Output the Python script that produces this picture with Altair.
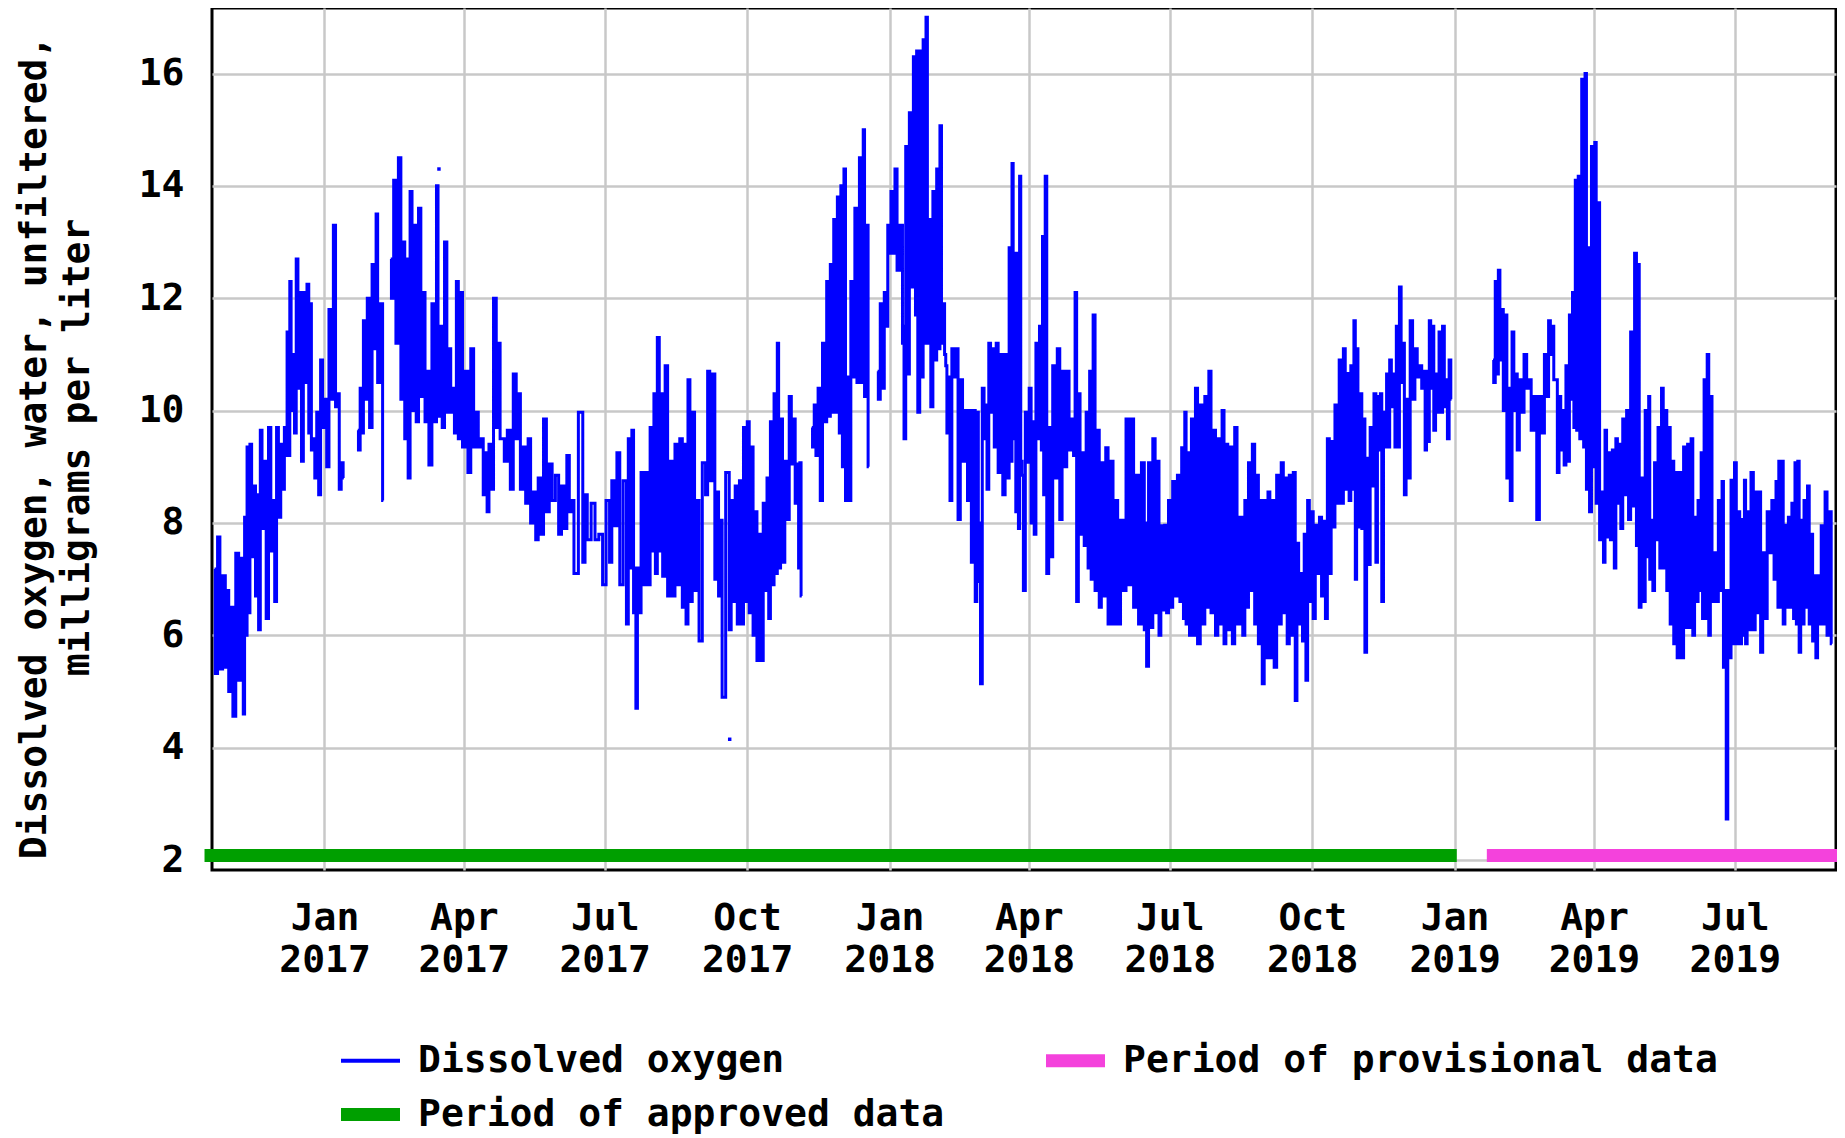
import altair as alt
import pandas as pd

# ---------------- data ----------------
# day = days since 2016-10-20 08:00 ; hi / lo = upper and lower value of the
# daily dissolved-oxygen swing (mg/L) around that day
day = [
    2.1, 5.1, 8.6, 10.8, 13.5, 17.2, 20.2, 21.9, 23.4, 25.6, 28.1, 30.1, 32.3, 35.0, 38.0, 40.5, 42.9, 45.9, 47.6, 49.4,
    51.1, 53.3, 55.5, 57.8, 60.2, 62.5, 64.2, 66.4, 68.9, 71.4, 74.1, 77.0, 79.8, 82.2, 84.7,
    94.6, 96.8, 98.8, 101.8, 105.0, 107.0, 110.2, 115.9, 118.8, 122.0, 124.5, 126.7, 129.2, 131.9, 134.9, 137.6, 140.1,
    144.0, 146.0, 148.7, 151.7, 154.2, 156.6, 159.1, 161.8, 165.3, 169.0, 172.0, 175.2, 177.7, 180.1, 183.6, 186.1,
    188.8, 192.7, 196.5, 199.2, 202.6, 205.8, 209.1, 212.3, 216.0, 219.7, 223.9, 227.6, 230.8, 233.8, 239.5, 242.4,
    247.4, 252.3, 256.8, 259.7, 263.4, 267.7, 270.1, 272.3, 273.8, 275.8, 278.5, 281.5, 284.5, 286.4, 288.9, 291.1,
    294.3, 297.6, 300.5, 303.8, 306.2, 308.7, 311.7, 314.6, 318.8, 321.5, 324.8, 327.2, 329.5, 334.1, 336.6, 339.3,
    342.1, 344.5, 347.0, 349.5, 352.0, 354.7, 357.4, 359.6, 361.8, 364.3, 366.0, 368.5, 371.5, 374.2, 376.7, 378.9, 380.5,
    387.9, 390.1, 392.9, 395.8, 398.3, 400.5, 402.7, 405.2, 407.2, 409.2, 411.4, 413.9, 416.6, 419.8, 421.5, 423.8,
    430.4, 432.9, 435.6, 437.4, 439.8, 442.5, 446.0, 447.0, 449.2, 451.7, 454.4, 455.9, 458.4, 460.3, 462.1, 464.3,
    467.0, 469.2, 471.2, 473.2, 474.7, 476.7, 479.1, 481.9, 484.8, 488.0, 490.5, 493.0, 495.0, 496.4, 498.7, 500.6,
    502.9, 505.3, 507.8, 510.8, 513.8, 516.0, 517.5, 519.2, 520.9, 522.4, 524.1, 526.6, 529.1, 531.1, 533.3, 535.7,
    537.2, 539.2, 541.7, 544.4, 547.6, 550.6, 553.6, 556.5, 558.5, 560.7, 563.4, 565.9, 567.9, 570.4, 573.1, 575.8,
    578.8, 582.0, 585.0, 588.7, 592.1, 595.3, 598.5, 602.2, 603.7, 606.2, 609.2, 611.7, 614.1, 616.6, 619.1, 622.0,
    625.2, 627.5, 629.2, 631.4, 633.9, 636.6, 640.1, 642.5, 645.3, 648.2, 651.2, 653.7, 656.1, 659.1, 662.1, 665.8,
    668.5, 670.5, 673.5, 675.9, 678.4, 680.9, 683.3, 686.1, 689.3, 692.0, 694.5, 697.2, 699.7, 701.9, 704.4, 706.6,
    708.8, 711.3, 714.0, 716.7, 719.2, 721.7, 724.1, 726.6, 729.6, 732.0, 734.5, 736.7, 738.5, 740.2, 742.7, 744.7,
    746.9, 749.3, 751.8, 753.8, 755.6, 757.8, 759.6, 761.8, 764.1, 765.9, 768.1, 770.2, 772.4, 775.5, 778.5, 781.4,
    783.6, 785.4, 787.2, 789.2, 791.5, 793.7, 796.0, 798.0, 800.2,
    827.9, 829.9, 831.9, 834.1, 836.4, 838.6, 840.9, 843.1, 845.8, 849.2, 852.1, 855.7, 859.1, 862.2, 864.5, 866.7,
    869.0, 871.2, 873.4, 875.7, 877.9, 879.7, 881.5, 883.5, 886.0, 887.8, 889.8, 892.3, 894.1, 896.3, 898.8, 900.8,
    903.3, 905.8, 907.8, 910.0, 912.5, 915.0, 917.7, 920.1, 921.9, 924.2, 927.3, 928.7, 930.7, 932.9, 935.2, 937.4,
    939.7, 941.9, 944.2, 946.4, 949.1, 952.0, 954.3, 956.5, 958.8, 961.0, 962.8, 964.8, 966.8, 968.9, 971.5, 974.5,
    976.3, 978.1, 980.1, 982.3, 984.6, 986.8, 989.1, 990.6, 992.6, 995.6, 998.0, 1000.3, 1003.0, 1006.1, 1009.0,
    1011.5, 1012.6, 1014.9, 1017.1, 1019.4, 1021.6, 1023.4, 1025.2, 1027.2, 1029.5, 1031.7, 1033.9, 1036.0, 1038.2,
    1040.7, 1043.2, 1045.9,
]
hi = [
    7.18, 7.75, 7.06, 6.8, 6.5, 7.46, 7.37, 8.1, 9.35, 9.4, 8.66, 8.5, 9.65, 9.1, 9.7, 8.4, 9.7, 9.4, 9.7, 11.4,
    12.3, 11.0, 12.7, 12.1, 12.1, 12.25, 11.9, 9.5, 9.97, 10.9, 10.2, 11.8, 13.3, 10.3, 9.07,
    9.65, 10.4, 11.6, 12.0, 12.6, 13.5, 11.9, 12.7, 14.1, 14.5, 13.0, 12.7, 13.9, 13.3, 13.6, 12.1, 10.7,
    11.9, 14.0, 11.5, 13.0, 11.1, 10.4, 12.3, 12.1, 10.7, 11.1, 9.97, 9.5, 9.25, 9.4, 12.0, 11.2,
    9.5, 9.65, 10.65, 10.3, 9.35, 9.5, 8.55, 8.8, 9.85, 9.05, 8.85, 8.66, 9.2, 8.4, 9.97, 8.5,
    8.35, 7.8, 8.4, 8.75, 9.25, 8.75, 9.5, 9.65, 7.2, 7.2, 8.9, 8.9, 9.7, 10.3, 11.3, 10.3,
    10.8, 9.1, 9.4, 9.5, 9.4, 10.55, 9.97, 8.4, 9.07, 10.7, 10.65, 8.55, 8.05, 8.9, 8.4, 8.66,
    8.75, 9.7, 9.8, 9.35, 8.2, 7.8, 8.35, 8.8, 9.8, 10.3, 11.2, 9.85, 9.1, 10.25, 9.85, 9.05, 9.07,
    9.7, 10.1, 10.4, 11.2, 12.3, 12.6, 13.4, 13.8, 14.0, 14.3, 10.6, 12.3, 13.6, 14.5, 15.0, 13.3,
    10.7, 11.9, 12.1, 13.3, 13.9, 14.3, 13.3, 11.5, 14.7, 15.3, 16.3, 16.4, 16.4, 16.6, 17.0, 13.4,
    13.9, 14.3, 15.07, 11.9, 10.8, 10.6, 11.1, 11.1, 10.55, 10.0, 10.0, 10.0, 9.97, 8.0, 10.4, 10.1,
    11.2, 11.1, 11.2, 11.0, 11.0, 12.9, 14.4, 12.8, 12.8, 14.17, 8.85, 9.97, 10.4, 9.8, 11.2, 11.5,
    13.1, 14.17, 9.7, 10.8, 11.1, 10.7, 10.7, 9.85, 12.1, 10.3, 9.25, 9.97, 10.7, 11.7, 9.65, 9.07,
    9.34, 9.1, 8.4, 8.05, 9.85, 9.85, 8.85, 9.07, 8.0, 9.07, 9.5, 9.1, 7.95, 7.96, 8.4, 8.74,
    8.85, 9.34, 9.97, 9.25, 9.85, 10.4, 10.1, 10.25, 10.7, 9.65, 9.5, 10.0, 9.4, 9.35, 9.7, 8.1,
    8.4, 9.07, 9.4, 8.85, 8.4, 8.4, 8.55, 8.4, 8.85, 9.07, 8.8, 8.85, 8.9, 7.64, 7.1, 7.8,
    8.4, 8.2, 7.96, 8.1, 8.03, 9.5, 9.45, 10.1, 10.9, 11.1, 10.66, 10.8, 11.6, 11.1, 10.3, 9.85,
    9.15, 9.7, 10.3, 10.25, 10.3, 9.97, 10.65, 10.9, 10.65, 11.5, 12.2, 11.2, 10.2, 11.6, 11.1, 10.8,
    10.7, 10.7, 11.6, 11.5, 10.65, 11.4, 11.5, 10.55, 10.9,
    10.9, 12.3, 12.5, 11.8, 11.7, 10.4, 11.4, 10.65, 10.55, 11.0, 10.55, 10.25, 10.25, 11.0, 11.6, 11.5,
    10.55, 10.25, 10.0, 10.8, 11.7, 12.1, 14.1, 14.17, 15.9, 16.0, 12.9, 14.7, 14.77, 13.7, 8.55, 9.65,
    9.25, 9.3, 9.5, 9.4, 9.85, 10.0, 11.4, 12.8, 12.6, 8.8, 10.0, 10.25, 8.05, 9.07, 9.7, 10.4,
    10.0, 9.7, 9.1, 8.9, 8.9, 9.35, 9.4, 9.5, 8.1, 8.4, 9.25, 10.55, 11.0, 10.25, 7.47, 8.4,
    8.74, 6.8, 6.8, 8.76, 9.07, 8.2, 8.06, 8.76, 8.2, 8.9, 8.55, 8.55, 7.47, 8.2, 8.4,
    8.74, 9.1, 9.1, 7.96, 8.1, 8.35, 9.07, 9.1, 8.05, 8.4, 8.66, 7.8, 7.06, 7.06,
    7.95, 8.55, 8.2,
]
lo = [
    5.32, 5.4, 5.43, 5.0, 4.56, 5.2, 4.6, 6.0, 6.4, 7.4, 6.7, 6.1, 7.9, 6.3, 7.5, 6.6, 8.1, 8.6, 9.2, 9.2,
    10.0, 9.6, 10.4, 9.1, 10.5, 9.6, 9.3, 8.8, 8.5, 9.7, 9.0, 10.2, 10.07, 8.6, 8.8,
    9.3, 9.6, 10.2, 9.7, 11.1, 10.5, 8.4, 12.0, 11.2, 10.2, 9.5, 8.8, 10.0, 9.8, 10.25, 9.8, 9.03,
    9.8, 9.9, 9.7, 9.97, 9.97, 9.6, 9.5, 9.35, 8.9, 9.35, 9.35, 8.5, 8.2, 8.6, 9.7, 9.5,
    9.1, 8.6, 9.5, 8.6, 8.35, 8.0, 7.7, 7.8, 8.2, 8.4, 7.8, 7.9, 8.2, 7.1, 7.3, 7.7,
    7.7, 6.9, 7.3, 7.95, 6.9, 6.2, 7.2, 6.4, 4.7, 6.4, 6.9, 6.9, 7.5, 7.1, 7.5, 7.05,
    6.7, 6.7, 6.9, 6.5, 6.2, 6.6, 6.8, 5.9, 8.5, 8.75, 7.0, 6.7, 4.9, 6.1, 6.6, 6.2,
    6.2, 6.6, 6.4, 6.0, 5.55, 5.55, 6.8, 6.3, 6.9, 7.1, 7.2, 7.3, 8.06, 9.05, 8.35, 7.2, 6.7,
    9.35, 9.2, 8.4, 9.8, 9.9, 9.97, 9.97, 9.6, 9.0, 8.4, 8.4, 10.6, 10.5, 10.5, 10.25, 9.0,
    10.2, 10.4, 11.5, 12.8, 12.8, 12.5, 11.2, 9.5, 10.65, 12.2, 11.7, 9.97, 10.6, 11.2, 11.2, 10.07,
    10.9, 11.1, 11.2, 11.0, 9.6, 8.4, 10.6, 8.06, 9.1, 8.4, 7.3, 6.6, 6.96, 5.14, 9.5, 8.6,
    9.97, 9.35, 8.9, 8.5, 8.8, 9.1, 9.5, 8.2, 7.9, 9.1, 6.8, 9.08, 8.0, 7.8, 9.5, 9.3,
    8.5, 7.1, 7.4, 8.8, 8.06, 9.0, 9.3, 9.2, 6.6, 7.8, 7.6, 7.2, 7.0, 6.8, 6.5, 6.7,
    6.2, 6.2, 6.2, 6.8, 6.9, 6.5, 6.2, 6.1, 5.45, 6.14, 6.4, 6.0, 6.45, 6.4, 6.5, 6.7,
    6.6, 6.3, 6.2, 6.0, 6.0, 5.85, 6.2, 6.5, 6.4, 6.0, 6.2, 5.85, 6.1, 5.85, 6.2, 6.0,
    6.5, 6.8, 6.2, 5.85, 5.14, 5.6, 5.6, 5.43, 6.2, 6.4, 5.85, 6.0, 4.84, 6.2, 5.9, 5.2,
    6.6, 6.3, 7.1, 6.7, 6.3, 7.1, 7.93, 8.35, 8.35, 8.6, 8.4, 8.6, 7.0, 7.93, 7.9, 5.7,
    7.26, 8.66, 7.3, 9.3, 6.6, 9.35, 9.35, 10.07, 9.35, 9.35, 10.5, 8.5, 8.8, 10.2, 10.6, 10.4,
    9.3, 9.45, 10.4, 9.65, 9.97, 9.97, 10.07, 9.5, 10.2,
    10.5, 10.65, 10.9, 10.0, 8.8, 8.4, 10.0, 9.3, 9.97, 10.4, 9.65, 8.06, 9.6, 10.25, 11.0, 10.55,
    8.9, 9.3, 9.03, 9.1, 10.2, 9.7, 9.65, 9.5, 9.35, 8.6, 8.2, 9.0, 8.35, 7.7, 7.3, 7.75,
    7.7, 7.2, 8.35, 7.9, 8.5, 8.06, 8.3, 7.6, 6.5, 6.6, 7.4, 7.0, 6.8, 7.7, 7.2, 7.2,
    6.8, 6.2, 5.85, 5.6, 5.6, 6.14, 6.14, 6.0, 6.6, 6.8, 6.3, 6.3, 6.0, 6.6, 6.6, 6.8,
    5.43, 2.73, 5.6, 5.85, 5.85, 5.85, 6.0, 5.85, 6.1, 6.1, 6.4, 5.7, 6.3, 7.47, 7.0,
    6.5, 6.5, 6.2, 6.5, 6.5, 6.3, 6.2, 5.7, 6.2, 6.5, 6.2, 5.9, 5.6, 6.2,
    6.2, 6.0, 5.85,
]
gap_days = [90, 113, 384, 427, 814]          # breaks in the record

lone_day = [146.6, 334.4]          # isolated single readings
lone_val = [14.3, 4.15]

period_names = ["Period of approved data", "Period of provisional data"]
period_start = ["2016-10-15T12:00:00", "2019-01-21T19:00:00"]
period_end = ["2019-01-02T09:00:00", "2019-09-06T19:00:00"]
period_level = [2.08, 2.08]
period_colors = ["#009F00", "#F442DC"]

# legend entries fill column by column: [col 1 row 1, col 1 row 2, col 2 row 1]
legend_names = ["Dissolved oxygen", "Period of approved data", "Period of provisional data"]
legend_colors = ["#0000FF", "#009F00", "#F442DC"]
legend_shapes = ["M-1,-0.068H1V0.068H-1Z", "M-1,-0.22H1V0.22H-1Z", "M-1,-0.22H1V0.22H-1Z"]

tick_months = [(2017, 1), (2017, 4), (2017, 7), (2017, 10), (2018, 1), (2018, 4), (2018, 7),
               (2018, 10), (2019, 1), (2019, 4), (2019, 7)]
y_ticks = [2, 4, 6, 8, 10, 12, 14, 16]

# ---------------- tables ----------------
base = pd.Timestamp("2016-10-20 08:00")


def ts(d):
    return (base + pd.Timedelta(days=d)).strftime("%Y-%m-%dT%H:%M:%S")


rows = []
for d, h, l in zip(day, hi, lo):
    s = sum(1 for g in gap_days if d > g)
    rows.append({"t": ts(d - 0.45), "v": h, "seg": s})
    rows.append({"t": ts(d + 0.45), "v": l, "seg": s})
line_df = pd.DataFrame(rows)
lone_df = pd.DataFrame({"t": [ts(d) for d in lone_day], "v": lone_val})
per_df = pd.DataFrame({"name": period_names, "t": period_start, "t2": period_end, "v": period_level})
leg_df = pd.DataFrame({"name": legend_names, "t": ["2015-06-01T00:00:00"] * 3, "v": [10.0] * 3})

FONT = "DejaVu Sans Mono"
GRID = "#C8C8C8"

x_scale = alt.Scale(domain=[alt.DateTime(year=2016, month=10, date=20, hours=8),
                            alt.DateTime(year=2019, month=9, date=4, hours=8)])
y_scale = alt.Scale(domain=[1.823, 17.166], nice=False, zero=False)

x_axis = alt.Axis(
    values=[alt.DateTime(year=yy, month=mm, date=1) for yy, mm in tick_months],
    labelExpr="[timeFormat(datum.value, '%b'), timeFormat(datum.value, '%Y')]",
    labelFont=FONT, labelFontSize=38, labelFontWeight="bold", labelColor="black",
    labelLineHeight=42, labelPadding=29, labelBaseline="top", labelAngle=0,
    labelFlush=False, labelOverlap=False, labelBound=False,
    ticks=False, domain=False, grid=True, gridColor=GRID, gridWidth=2.5, title=None,
)
y_axis = alt.Axis(
    values=y_ticks, format="d",
    labelFont=FONT, labelFontSize=38, labelFontWeight="bold", labelColor="black",
    labelPadding=28, labelFlush=False, labelOverlap=False, labelBound=False,
    ticks=False, domain=False, grid=True, gridColor=GRID, gridWidth=2.5,
    title=["Dissolved oxygen, water, unfiltered,", "milligrams per liter"],
    titleFont=FONT, titleFontSize=38, titleFontWeight="bold", titleColor="black",
    titleAngle=270, titleAlign="center", titleBaseline="alphabetic",
    titleX=-167, titleY=439, titleLineHeight=43,
)

X = alt.X("t:T", scale=x_scale, axis=x_axis)
Y = alt.Y("v:Q", scale=y_scale, axis=y_axis)

line = alt.Chart(line_df).mark_line(color="#0000FF", strokeWidth=3, interpolate="step").encode(
    x=X, y=Y, detail="seg:N", order="t:T")
lone = alt.Chart(lone_df).mark_square(color="#0000FF", size=12, opacity=1).encode(x=X, y=Y)

rules = []
for name, col in zip(period_names, period_colors):
    rules.append(
        alt.Chart(per_df).transform_filter(alt.datum.name == name)
        .mark_rule(color=col, strokeWidth=13, strokeCap="butt")
        .encode(x=X, x2="t2:T", y=Y)
    )

leg_props = dict(
    title=None, orient="none", legendX=129, legendY=1023, columns=2,
    columnPadding=101, rowPadding=5, padding=0,
    labelFont=FONT, labelFontSize=38, labelFontWeight="bold", labelColor="black",
    labelOffset=18, labelLimit=2000, symbolSize=3481, symbolStrokeWidth=0, symbolOpacity=1,
)
legend_layer = alt.Chart(leg_df).mark_point(filled=True, size=3481, opacity=1, clip=True, strokeWidth=0).encode(
    x=X, y=Y,
    color=alt.Color("name:N", scale=alt.Scale(domain=legend_names, range=legend_colors),
                    legend=alt.Legend(**leg_props)),
    shape=alt.Shape("name:N", scale=alt.Scale(domain=legend_names, range=legend_shapes),
                    legend=alt.Legend(**leg_props)),
)

chart = alt.layer(*rules, line, lone, legend_layer).properties(
    width=1624, height=862,
    autosize=alt.AutoSizeParams(type="none"),
    padding={"left": 204, "top": 0, "right": 1, "bottom": 266},
).configure(background="white").configure_view(stroke="black", strokeWidth=3)

chart.save("out.html", embed_options={"renderer": "svg", "actions": False})
